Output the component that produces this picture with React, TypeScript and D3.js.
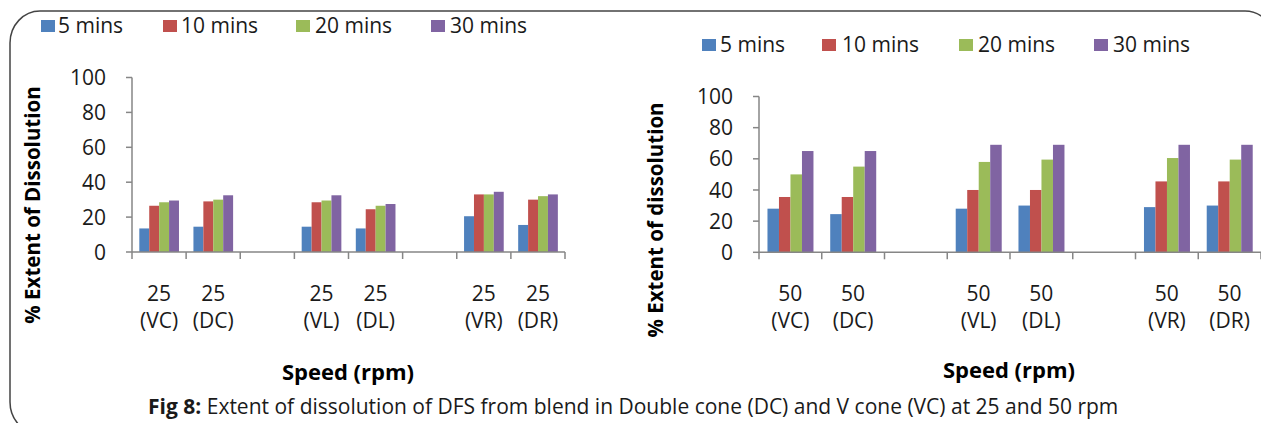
import React from "react";
import * as d3 from "d3";

// ---------- data ----------
const seriesNames = ["5 mins", "10 mins", "20 mins", "30 mins"];
const seriesColors = ["#4F81BD", "#C0504D", "#9BBB59", "#8064A2"];
const yTicks = [0, 20, 40, 60, 80, 100];

const categoryKeys = ["c0", "c1", "c2", "c3", "c4", "c5", "c6", "c7"];
const leftSpeed = ["25", "25", "", "25", "25", "", "25", "25"];
const rightSpeed = ["50", "50", "", "50", "50", "", "50", "50"];
const blenders = ["(VC)", "(DC)", "", "(VL)", "(DL)", "", "(VR)", "(DR)"];

const left5 = [13.5, 14.5, null, 14.5, 13.5, null, 20.5, 15.5];
const left10 = [26.5, 29, null, 28.5, 24.5, null, 33, 30];
const left20 = [28.5, 30, null, 29.5, 26.5, null, 33, 32];
const left30 = [29.5, 32.5, null, 32.5, 27.5, null, 34.5, 33];

const right5 = [28, 24.5, null, 28, 30, null, 29, 30];
const right10 = [35.5, 35.5, null, 40, 40, null, 45.5, 45.5];
const right20 = [50, 55, null, 58, 59.5, null, 60.5, 59.5];
const right30 = [65, 65, null, 69, 69, null, 69, 69];

const caption = "Extent of dissolution of DFS from blend in Double cone (DC) and V cone (VC) at 25 and 50 rpm";

const FONT = "'Open Sans', 'Noto Sans', sans-serif";
const AXIS = "#868686";
const TEXT = "#1a1a1a";

type PanelProps = {
  x0: number; x1: number; yZero: number; yTop: number;
  speeds: string[]; series: (number | null)[][];
  yTitle: string; yTitleX: number; yTitleY: number;
  xTitleX: number; xTitleY: number;
  legendSq: number[]; legendTx: number[]; legendY: number;
};

function Panel(p: PanelProps) {
  const x = d3.scaleBand<string>().domain(categoryKeys).range([p.x0, p.x1]).padding(0);
  const bw = x.bandwidth();
  const inner = d3.scaleBand<number>().domain([0, 1, 2, 3]).range([bw * 0.135, bw * 0.868]).padding(0);
  const y = d3.scaleLinear().domain([0, 100]).range([p.yZero, p.yTop]);
  const edges = categoryKeys.map((k) => x(k)!).concat([p.x1]);
  return (
    <g>
      {/* legend */}
      {seriesNames.map((n, i) => (
        <g key={n}>
          <rect x={p.legendSq[i]} y={p.legendY - 13} width={14} height={12} fill={seriesColors[i]} />
          <text x={p.legendTx[i]} y={p.legendY} fontSize={21} fill={TEXT} fontFamily={FONT}>{n}</text>
        </g>
      ))}
      {/* bars */}
      {p.series.map((vals, si) =>
        vals.map((v, ci) =>
          v == null ? null : (
            <rect key={`${si}-${ci}`} x={x(categoryKeys[ci])! + inner(si)!} y={y(v)} width={inner.bandwidth()}
              height={p.yZero - y(v)} fill={seriesColors[si]} />
          )
        )
      )}
      {/* y axis */}
      <line x1={p.x0} x2={p.x0} y1={y(100)} y2={p.yZero} stroke={AXIS} strokeWidth={1.5} />
      {yTicks.map((t) => (
        <g key={t}>
          <line x1={p.x0 - 6} x2={p.x0} y1={y(t)} y2={y(t)} stroke={AXIS} strokeWidth={1.5} />
          <text x={p.x0 - 26} y={y(t)} dy="0.36em" textAnchor="end" fontSize={21} fill={TEXT} fontFamily={FONT}>{t}</text>
        </g>
      ))}
      {/* x axis */}
      <line x1={p.x0} x2={p.x1} y1={p.yZero} y2={p.yZero} stroke={AXIS} strokeWidth={1.5} />
      {edges.map((e, i) => (
        <line key={i} x1={e} x2={e} y1={p.yZero} y2={p.yZero + 7} stroke={AXIS} strokeWidth={1.5} />
      ))}
      {categoryKeys.map((k, i) => (
        <g key={k}>
          <text x={x(k)! + bw / 2} y={301} textAnchor="middle" fontSize={21} fill={TEXT} fontFamily={FONT}>{p.speeds[i]}</text>
          <text x={x(k)! + bw / 2} y={328} textAnchor="middle" fontSize={21} fill={TEXT} fontFamily={FONT}>{blenders[i]}</text>
        </g>
      ))}
      {/* titles */}
      <text transform={`translate(${p.yTitleX},${p.yTitleY}) rotate(-90)`} textAnchor="middle" fontSize={20.5}
        fontWeight="bold" fill="#000" fontFamily={FONT}>{p.yTitle}</text>
      <text x={p.xTitleX} y={p.xTitleY} textAnchor="middle" fontSize={22} fontWeight="bold" fill="#000" fontFamily={FONT}>Speed (rpm)</text>
    </g>
  );
}

export default function App() {
  return (
    <svg width={1261} height={423} style={{ position: "absolute", left: 0, top: 0, background: "#fff" }}>
      <rect x={10} y={11} width={1265} height={423} rx={30} ry={32} fill="#fff" stroke="#444" strokeWidth={1.5} />
      <Panel x0={132} x1={565} yZero={252} yTop={77.5} speeds={leftSpeed}
        series={[left5, left10, left20, left30]} yTitle="% Extent of Dissolution" yTitleX={40} yTitleY={205}
        xTitleX={348} xTitleY={380}
        legendSq={[41, 163, 296, 431]} legendTx={[58, 181, 315, 450]} legendY={33} />
      <Panel x0={759} x1={1261} yZero={252.3} yTop={96.5} speeds={rightSpeed}
        series={[right5, right10, right20, right30]} yTitle="% Extent of dissolution" yTitleX={663} yTitleY={220}
        xTitleX={1009} xTitleY={378}
        legendSq={[702, 822, 959, 1094]} legendTx={[720, 842, 978, 1113]} legendY={52} />
      <text x={148} y={414} fontSize={21} fill={TEXT} fontFamily={FONT}>
        <tspan fontWeight="bold">Fig 8:</tspan> {caption}
      </text>
    </svg>
  );
}
